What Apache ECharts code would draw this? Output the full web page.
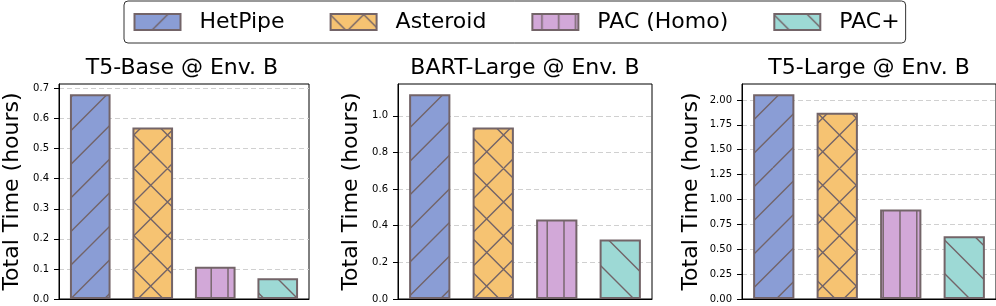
<!DOCTYPE html>
<html>
<head>
<meta charset="utf-8">
<script src="https://cdn.jsdelivr.net/npm/echarts@6/dist/echarts.min.js"></script>
<style>
html, body { margin: 0; padding: 0; background: #fff; }
#chart { width: 996px; height: 306px; }
</style>
</head>
<body>
<div id="chart"></div>
<script>
// 数据
const methods = ['HetPipe', 'Asteroid', 'PAC (Homo)', 'PAC+'];
const panelTitles = ['T5-Base @ Env. B', 'BART-Large @ Env. B', 'T5-Large @ Env. B'];
const t5BaseHours = [0.681, 0.570, 0.107, 0.069];
const bartLargeHours = [1.118, 0.936, 0.434, 0.325];
const t5LargeHours = [2.057, 1.872, 0.899, 0.631];
const t5BaseTicks = [0, 0.1, 0.2, 0.3, 0.4, 0.5, 0.6, 0.7];
const bartLargeTicks = [0, 0.2, 0.4, 0.6, 0.8, 1.0];
const t5LargeTicks = [0, 0.25, 0.5, 0.75, 1.0, 1.25, 1.5, 1.75, 2.0];

const FONT = 'DejaVu Sans';
const EDGE = '#736468';
const fills = ['#8a9dd5', '#f6c372', '#d2a8d8', '#9dd9d5'];
const hatches = ['/', 'x', '|', '\\'];

// 斜线填充图案
const TILE = 168;
function makeHatch (fill, kind) {
    const c = document.createElement('canvas');
    c.width = TILE;
    c.height = TILE;
    const ctx = c.getContext('2d');
    ctx.fillStyle = fill;
    ctx.fillRect(0, 0, TILE, TILE);
    ctx.strokeStyle = EDGE;
    ctx.lineWidth = 1.4;
    ctx.beginPath();
    if (kind === '/' || kind === 'x') {
        for (let k = 0; k <= 10; k++) {
            const s = k * 33.6;
            ctx.moveTo(s, 0);
            ctx.lineTo(s - TILE, TILE);
        }
    }
    if (kind === '\\' || kind === 'x') {
        for (let k = -5; k <= 5; k++) {
            const s = k * 33.6 - 1;
            ctx.moveTo(s, 0);
            ctx.lineTo(s + TILE, TILE);
        }
    }
    if (kind === '|') {
        for (let k = 0; k < 10; k++) {
            const x = 9.6 + k * 16.8;
            ctx.moveTo(x, 0);
            ctx.lineTo(x, TILE);
        }
    }
    ctx.stroke();
    return { image: c, repeat: 'repeat' };
}
const patterns = fills.map((f, i) => makeHatch(f, hatches[i]));

const panels = [
    { values: t5BaseHours, ticks: t5BaseTicks, step: 0.1, digits: 1, left: 55, nameGap: 36 },
    { values: bartLargeHours, ticks: bartLargeTicks, step: 0.2, digits: 1, left: 398, nameGap: 36 },
    { values: t5LargeHours, ticks: t5LargeTicks, step: 0.25, digits: 2, left: 742, nameGap: 40 }
];
const GRID_W = 254, GRID_TOP = 84, GRID_H = 215;

const series = [];
panels.forEach((p, gi) => {
    methods.forEach((m, mi) => {
        series.push({
            name: m,
            type: 'bar',
            xAxisIndex: gi,
            yAxisIndex: gi,
            stack: 'panel' + gi,
            barWidth: '65%',
            data: p.values.map((v, i) => i === mi ? v : '-'),
            itemStyle: {
                color: patterns[mi],
                borderColor: EDGE,
                borderWidth: 2
            }
        });
    });
});

const chart = echarts.init(document.getElementById('chart'));
const option = {
    animation: false,
    backgroundColor: '#fff',
    textStyle: { fontFamily: FONT },
    legend: {
        data: methods,
        left: 124,
        top: 1,
        icon: 'rect',
        itemWidth: 46,
        itemHeight: 16,
        itemGap: 45,
        padding: [10, 6, 10, 9.5],
        borderColor: '#333',
        borderWidth: 1,
        borderRadius: 4,
        selectedMode: false,
        textStyle: { fontSize: 22, fontFamily: FONT, color: '#000', padding: [0, 0, 0, 14] }
    },
    title: panels.map((p, i) => ({
        text: panelTitles[i],
        left: p.left + GRID_W / 2,
        top: 57,
        textAlign: 'center',
        padding: 0,
        textStyle: { fontSize: 22, fontWeight: 'normal', fontFamily: FONT, color: '#000' }
    })),
    grid: panels.map(p => ({
        left: p.left,
        top: GRID_TOP,
        width: GRID_W,
        height: GRID_H,
        show: true,
        borderColor: '#000',
        borderWidth: 1
    })),
    xAxis: panels.map((p, i) => ({
        type: 'category',
        gridIndex: i,
        data: methods,
        z: 5,
        axisLine: { lineStyle: { color: '#000', width: 1 } },
        axisTick: { show: false },
        axisLabel: { show: false },
        splitLine: { show: false }
    })),
    yAxis: panels.map((p, i) => ({
        type: 'value',
        gridIndex: i,
        min: 0,
        max: Math.max(...p.values) * 1.05,
        interval: p.step,
        name: 'Total Time (hours)',
        nameLocation: 'middle',
        nameGap: p.nameGap,
        nameTextStyle: { fontSize: 22, fontFamily: FONT, color: '#000' },
        axisLine: { show: true, lineStyle: { color: '#000', width: 1 } },
        axisTick: { show: true, length: 5, customValues: p.ticks, lineStyle: { color: '#000' } },
        axisLabel: {
            customValues: p.ticks,
            fontSize: 10,
            margin: 10,
            color: '#000',
            fontFamily: FONT,
            formatter: v => Number(v).toFixed(p.digits)
        },
        splitLine: { show: true, lineStyle: { color: '#d0d0d0', type: [5, 3], width: 1 } }
    })),
    series: series
};
chart.setOption(option);
</script>
</body>
</html>
